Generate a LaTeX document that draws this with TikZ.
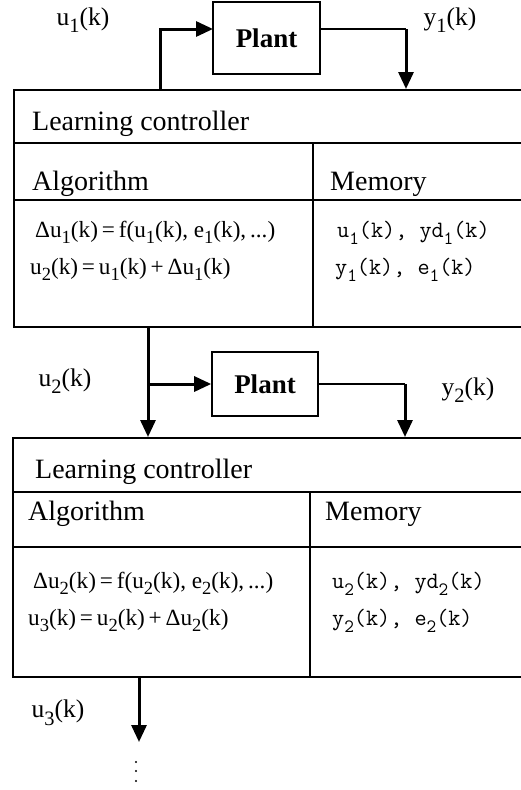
\documentclass[tikz,border=0pt]{standalone}
\usepackage{fontspec}
\setmainfont{Liberation Serif}
\usetikzlibrary{arrows.meta}
\newcommand\sbx[1]{\raisebox{-0.3em}{\scalebox{0.8}{#1}}}
\tikzset{
  frame/.style={draw, line width=1.6pt, inner sep=0pt},
  plantbox/.style={draw, line width=1.6pt, inner sep=0pt, minimum width=107pt,
    font=\fontsize{27}{30}\selectfont\bfseries},
  rule/.style={line width=1.6pt},
  sig/.style={line width=3pt, -{Triangle[length=17pt,width=15pt]}},
  wire/.style={line width=1.5pt},
  lbl/.style={inner sep=0pt, font=\fontsize{25.5}{28}\selectfont},
  head/.style={inner sep=0pt, anchor=base west, font=\fontsize{28}{32}\selectfont},
  eq/.style={inner sep=0pt, anchor=base west, font=\fontsize{23.2}{26}\selectfont},
  mem/.style={inner sep=0pt, anchor=base west, font=\ttfamily\fontsize{23.5}{26}\selectfont},
}
\begin{document}
\begin{tikzpicture}[x=1pt,y=-1pt]
\useasboundingbox (0,0) rectangle (520,790);

% ---------- stage 1 ----------
\node[plantbox, minimum height=72pt] (plant1) at (266.5,38) {Plant};
\coordinate (p1in) at (213,29);
\coordinate (p1out) at (320,29);
\node[frame, minimum width=512pt, minimum height=237pt, anchor=north west] (ctrl1) at (13,89) {};
\draw[rule] (13,143) -- (525,143);
\draw[rule] (13,200) -- (525,200);
\draw[rule] (313,143) -- (313,326);

\node[head] (lc1) at (32,130) {Learning controller};
\node[head] (al1) at (32,190) {Algorithm};
\node[head] (me1) at (330,190) {Memory};
\node[eq] (eqa1) at (35,237) {Δu\sbx{1}(k)\,=\,f(u\sbx{1}(k), e\sbx{1}(k),\,...)};
\node[eq] (eqb1) at (30,274) {u\sbx{2}(k)\,=\,u\sbx{1}(k)\,+\,Δu\sbx{1}(k)};
\node[mem] (ma1) at (337,237) {u\sbx{1}(k), yd\sbx{1}(k)};
\node[mem] (mb1) at (335,274) {y\sbx{1}(k), e\sbx{1}(k)};

\node[lbl] (u1) at (83,20) {u\sbx{1}(k)};
\node[lbl] (y1) at (450,20) {y\sbx{1}(k)};

\coordinate (s1) at (160,89);
\draw[sig] (s1) |- (p1in);
\draw[wire] (p1out) -- (406,29) coordinate (c1);
\draw[sig] (c1) -- (c1 |- ctrl1.north);

% ---------- stage 2 ----------
\node[plantbox, minimum width=106pt, minimum height=64pt] (plant2) at (265,384) {Plant};
\node[frame, minimum width=513pt, minimum height=239pt, anchor=north west] (ctrl2) at (12,437) {};
\draw[rule] (12,492) -- (525,492);
\draw[rule] (12,547) -- (525,547);
\draw[rule] (310,492) -- (310,676);

\node[head] (lc2) at (35,478) {Learning controller};
\node[head] (al2) at (28,520) {Algorithm};
\node[head] (me2) at (325,520) {Memory};
\node[eq] (eqa2) at (33,588) {Δu\sbx{2}(k)\,=\,f(u\sbx{2}(k), e\sbx{2}(k),\,...)};
\node[eq] (eqb2) at (28,625) {u\sbx{3}(k)\,=\,u\sbx{2}(k)\,+\,Δu\sbx{2}(k)};
\node[mem] (ma2) at (332,588) {u\sbx{2}(k), yd\sbx{2}(k)};
\node[mem] (mb2) at (332,625) {y\sbx{2}(k), e\sbx{2}(k)};

\node[lbl] (u2) at (65,381) {u\sbx{2}(k)};
\node[lbl] (y2) at (468,390) {y\sbx{2}(k)};

\coordinate (s2) at (148,326);
\draw[sig] (s2) -- (s2 |- ctrl2.north);
\coordinate (b2) at (148,384);
\draw[sig] (b2) -- (plant2.west);
\draw[wire] (plant2.east) -- (405,384) coordinate (c2);
\draw[sig] (c2) -- (c2 |- ctrl2.north);

% ---------- stage 3 ----------
\node[lbl] (u3) at (58,713) {u\sbx{3}(k)};
\coordinate (s3) at (139,676);
\coordinate (e3) at (139,742);
\draw[sig] (s3) -- (e3);
\foreach \yy in {762,771,781} \fill (136,\yy) circle (1.1pt);
\end{tikzpicture}
\end{document}
